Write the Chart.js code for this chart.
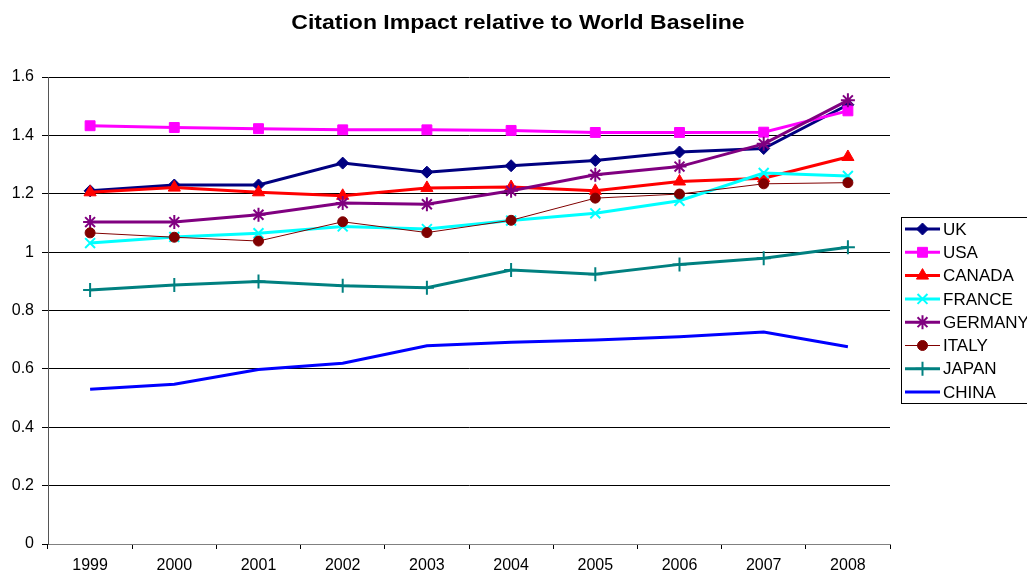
<!DOCTYPE html>
<html>
<head>
<meta charset="utf-8">
<title>Citation Impact relative to World Baseline</title>
<script src="https://cdn.jsdelivr.net/npm/chart.js@4/dist/chart.umd.min.js"></script>
<style>
  body { margin: 0; background: #fff; }
  #wrap { width: 1027px; height: 575px; }
</style>
</head>
<body>
<div id="wrap"><canvas id="chart" width="1027" height="575"></canvas></div>
<script>
// data
const years = ['1999', '2000', '2001', '2002', '2003', '2004', '2005', '2006', '2007', '2008'];
const countries = ['UK', 'USA', 'CANADA', 'FRANCE', 'GERMANY', 'ITALY', 'JAPAN', 'CHINA'];
const uk      = [1.210, 1.230, 1.230, 1.305, 1.274, 1.296, 1.314, 1.343, 1.355, 1.505];
const usa     = [1.433, 1.427, 1.423, 1.419, 1.419, 1.417, 1.410, 1.410, 1.411, 1.484];
const canada  = [1.205, 1.221, 1.205, 1.193, 1.220, 1.223, 1.210, 1.242, 1.253, 1.326];
const france  = [1.031, 1.052, 1.065, 1.088, 1.079, 1.108, 1.133, 1.176, 1.271, 1.261];
const germany = [1.103, 1.103, 1.128, 1.168, 1.164, 1.210, 1.265, 1.293, 1.371, 1.520];
const italy   = [1.066, 1.051, 1.038, 1.104, 1.067, 1.109, 1.185, 1.199, 1.234, 1.238];
const japan   = [0.870, 0.887, 0.899, 0.885, 0.878, 0.939, 0.924, 0.958, 0.979, 1.017];
const china   = [0.530, 0.547, 0.598, 0.619, 0.679, 0.691, 0.699, 0.710, 0.726, 0.676];
const yTicks  = [0, 0.2, 0.4, 0.6, 0.8, 1, 1.2, 1.4, 1.6];

const FONT = '"Liberation Sans", Arial, sans-serif';

// per-series look (Excel-ish defaults)
const styles = [
    { color: '#000080', width: 3, point: 'rectRot',  radius: 6, pw: 1 },
    { color: '#FF00FF', width: 3, point: 'rect',     radius: 7, pw: 1 },
    { color: '#FF0000', width: 3, point: 'triangle', radius: 7, pw: 1 },
    { color: '#00FFFF', width: 3, point: 'crossRot', radius: 7, pw: 2 },
    { color: '#800080', width: 3, point: 'star',     radius: 7, pw: 2 },
    { color: '#800000', width: 1, point: 'circle',   radius: 5, pw: 1 },
    { color: '#008080', width: 3, point: 'cross',    radius: 7, pw: 2 },
    { color: '#0000FF', width: 3, point: 'circle',   radius: 0, pw: 1 }
];

const series = [uk, usa, canada, france, germany, italy, japan, china];

const datasets = series.map(function(values, i) {
    const s = styles[i];
    return {
        label: countries[i],
        data: values,
        borderColor: s.color,
        backgroundColor: s.color,
        borderWidth: s.width,
        pointStyle: s.point,
        pointRadius: s.radius,
        pointBorderWidth: s.pw,
        pointBorderColor: s.color,
        pointBackgroundColor: s.color,
        tension: 0,
        fill: false,
        order: series.length - i
    };
});

// title drawn by hand so the plot area stays where Excel put it
// (the original text is a bit stretched sideways, hence the scale)
const titlePlugin = {
    id: 'excelTitle',
    afterDraw(chart) {
        const ctx = chart.ctx;
        ctx.save();
        ctx.fillStyle = '#000';
        ctx.font = 'bold 20px ' + FONT;
        ctx.textAlign = 'center';
        ctx.textBaseline = 'middle';
        ctx.translate(518, 23);
        ctx.scale(1.15, 1);
        ctx.fillText('Citation Impact relative to World Baseline', 0, 0);
        ctx.restore();
    }
};

// boxed legend on the right, clipped by the canvas edge like the original
const legendPlugin = {
    id: 'excelLegend',
    afterDraw(chart) {
        const ctx = chart.ctx;
        const left = 901, top = 217, rowH = 23.3;
        ctx.save();
        ctx.strokeStyle = '#000';
        ctx.lineWidth = 1;
        ctx.strokeRect(left + 0.5, top + 0.5, 140, 186);
        ctx.font = '17px ' + FONT;
        ctx.textBaseline = 'middle';
        ctx.textAlign = 'left';
        chart.data.datasets.forEach(function(ds, i) {
            const y = top + 12 + i * rowH;
            ctx.strokeStyle = ds.borderColor;
            ctx.lineWidth = ds.borderWidth;
            ctx.beginPath();
            ctx.moveTo(905, y);
            ctx.lineTo(940, y);
            ctx.stroke();
            if (ds.pointRadius > 0) {
                ctx.fillStyle = ds.pointBackgroundColor;
                ctx.strokeStyle = ds.pointBorderColor;
                ctx.lineWidth = ds.pointBorderWidth;
                Chart.helpers.drawPoint(ctx, {
                    pointStyle: ds.pointStyle,
                    radius: ds.pointRadius,
                    borderWidth: ds.pointBorderWidth,
                    rotation: 0
                }, 922.5, y);
            }
            ctx.fillStyle = '#000';
            ctx.fillText(ds.label, 943, y + 1);
        });
        ctx.restore();
    }
};

new Chart(document.getElementById('chart').getContext('2d'), {
    type: 'line',
    data: { labels: years, datasets: datasets },
    options: {
        responsive: false,
        animation: false,
        layout: { padding: { top: 77, right: 137, left: 0, bottom: 0 } },
        plugins: {
            legend: { display: false },
            title: { display: false },
            tooltip: { enabled: false }
        },
        scales: {
            x: {
                type: 'category',
                offset: true,
                afterFit: function(scale) { scale.height = 31; },
                grid: {
                    offset: true,
                    drawOnChartArea: false,
                    drawTicks: true,
                    tickLength: 5,
                    color: '#000'
                },
                border: { color: '#808080', width: 1 },
                ticks: {
                    color: '#000',
                    padding: 7,
                    font: { family: FONT, size: 16 },
                    maxRotation: 0
                }
            },
            y: {
                min: yTicks[0],
                max: yTicks[yTicks.length - 1],
                afterFit: function(scale) { scale.width = 48; },
                afterBuildTicks: function(scale) {
                    scale.ticks = yTicks.map(function(v) { return { value: v }; });
                },
                grid: {
                    color: '#000',
                    lineWidth: 1,
                    drawTicks: true,
                    tickLength: 6
                },
                border: { color: '#555', width: 1 },
                ticks: {
                    color: '#000',
                    padding: 8,
                    font: { family: FONT, size: 16 },
                    callback: function(v) { return String(+(+v).toFixed(1)); }
                }
            }
        }
    },
    plugins: [titlePlugin, legendPlugin]
});
</script>
</body>
</html>
